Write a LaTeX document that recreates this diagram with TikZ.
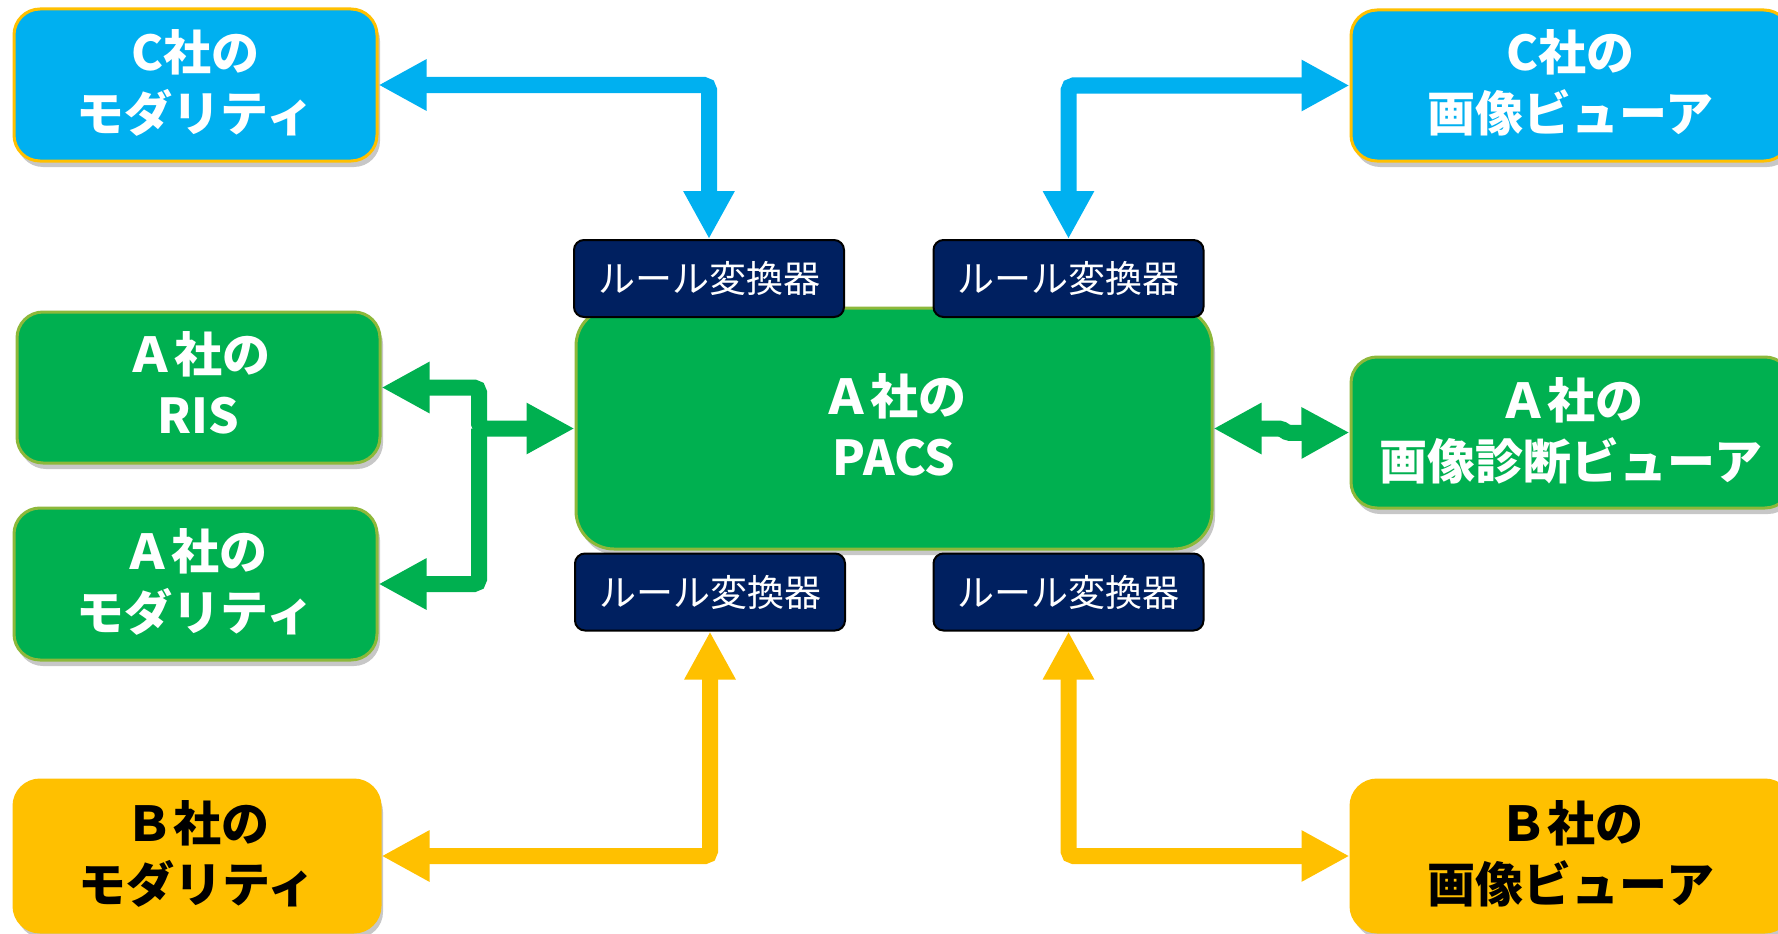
\documentclass[tikz,border=0pt]{standalone}
\usepackage{fontspec}
\newfontfamily\jp{Noto Sans CJK JP}
\usetikzlibrary{arrows.meta,shadows}
\definecolor{cblue}{HTML}{00B0F0}
\definecolor{agreen}{HTML}{00B050}
\definecolor{gborder}{HTML}{8DB83A}
\definecolor{bgold}{HTML}{FFC000}
\definecolor{navy}{HTML}{002060}
\begin{document}
\begin{tikzpicture}[x=1pt,y=-1pt,
  bigbox/.style={rectangle, rounded corners=26pt, line width=3pt, align=center,
    inner sep=0pt, font=\jp\bfseries\fontsize{48}{61}\selectfont,
    execute at end node={\rule[-9pt]{0pt}{0pt}},
    drop shadow={shadow xshift=3pt, shadow yshift=-6pt, opacity=0.22, fill=black}},
  cbox/.style={bigbox, fill=cblue, draw=bgold, text=white},
  abox/.style={bigbox, fill=agreen, draw=gborder, text=white},
  bbox/.style={bigbox, fill=bgold, draw=bgold, text=black},
  rulebox/.style={rectangle, rounded corners=10pt, line width=2pt, draw=black, fill=navy,
    text=white, inner sep=0pt, minimum width=270pt, minimum height=77pt,
    font=\jp\fontsize{37}{40}\selectfont},
  conn/.style={line width=16pt, rounded corners=5pt, >={Triangle[length=48pt,width=48pt]}},
  blueconn/.style={conn, draw=cblue},
  greenconn/.style={conn, draw=agreen},
  goldconn/.style={conn, draw=bgold}
]
\useasboundingbox (0,0) rectangle (1778,934);
\clip (0,0) rectangle (1778,934);
\fill[white] (0,0) rectangle (1778,934);

% boxes
\node[cbox, minimum width=363pt, minimum height=152pt] (cmod) at (195.5,85) {C社の\\モダリティ};
\node[cbox, minimum width=439pt, minimum height=151pt] (cview) at (1570.5,85.5) {C社の\\画像ビューア};
\node[abox, minimum width=363pt, minimum height=151pt] (ris) at (198.5,387.5) {Ａ社の\\RIS};
\node[abox, minimum width=363pt, minimum height=152pt] (amod) at (195.5,584) {Ａ社の\\モダリティ};
\node[abox, rounded corners=38pt, minimum width=636pt, minimum height=241pt] (pacs) at (894,428.5) {Ａ社の\\PACS};
\node[abox, minimum width=440pt, minimum height=151pt] (dxv) at (1571,432.5) {Ａ社の\\画像診断ビューア};
\node[bbox, minimum width=366pt, minimum height=152pt] (bmod) at (197,856) {Ｂ社の\\モダリティ};
\node[bbox, minimum width=440pt, minimum height=152pt] (bview) at (1571,856) {Ｂ社の\\画像ビューア};

\node[rulebox] (r1) at (709,278.5) {ルール変換器};
\node[rulebox] (r2) at (1068.5,278.5) {ルール変換器};
\node[rulebox] (r3) at (710,592) {ルール変換器};
\node[rulebox] (r4) at (1068.5,592) {ルール変換器};

% connectors
\draw[blueconn,<->] (cmod.east) -| (r1.north);
\draw[blueconn,<->] (cview.west) -| (r2.north);
\draw[goldconn,<->] (bmod.east) -| (r3.south);
\draw[goldconn,<->] (bview.west) -| (r4.south);

\coordinate (jx) at (479,428.5);
\draw[greenconn,<-] (amod.east) -| (jx);
\draw[greenconn,<->] (ris.east) -| (jx) -- (pacs.west);

\coordinate (j1) at (1281,428.5);
\coordinate (j2) at (1288,433);
\draw[greenconn,<->,rounded corners=2pt] (pacs.east) -- (j1) -- (j2) -- (dxv.west);
\end{tikzpicture}
\end{document}
